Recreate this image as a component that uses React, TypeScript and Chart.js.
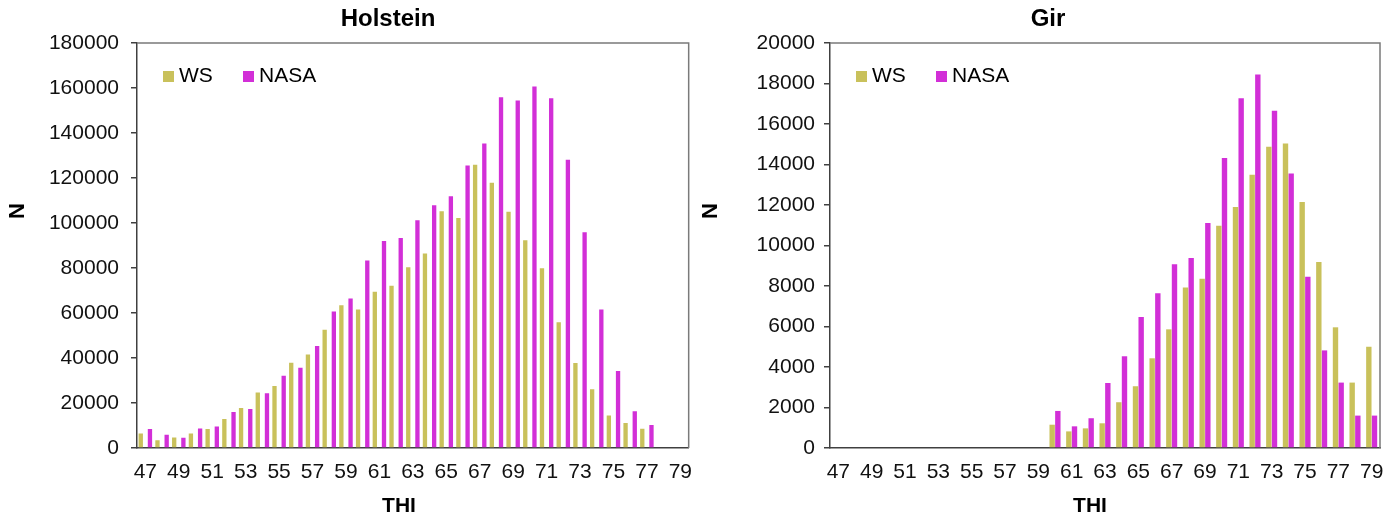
import React, { useEffect, useRef } from "react";
import { Chart, registerables } from "chart.js";

Chart.register(...registerables);

// ---------- data ----------
const thiLabels = [
  "47", "48", "49", "50", "51", "52", "53", "54", "55", "56", "57",
  "58", "59", "60", "61", "62", "63", "64", "65", "66", "67", "68",
  "69", "70", "71", "72", "73", "74", "75", "76", "77", "78", "79",
];

const holsteinWS = [
  6400, 3400, 4700, 6500, 8400, 12900, 17800, 24700, 27600, 37900, 41600,
  52600, 63400, 61600, 69500, 72100, 80300, 86400, 105200, 102200, 125900, 117900,
  105000, 92300, 79900, 55900, 37800, 26100, 14500, 11100, 8600, null, null,
];

const holsteinNASA = [
  8400, 5900, 4600, 8700, 9600, 16000, 17300, 24300, 32100, 35700, 45300,
  60700, 66500, 83300, 92000, 93300, 101200, 107900, 111900, 125600, 135300, 155900,
  154400, 160700, 155400, 128100, 95900, 61600, 34200, 16300, 10200, null, null,
];

const girWS = [
  null, null, null, null, null, null, null, null, null, null, null,
  null, null, 1150, 820, 970, 1220, 2260, 3050, 4430, 5860, 7920,
  8360, 10980, 11900, 13500, 14880, 15040, 12150, 9190, 5960, 3230, 5000,
];

const girNASA = [
  null, null, null, null, null, null, null, null, null, null, null,
  null, null, 1830, 1070, 1470, 3210, 4530, 6470, 7640, 9070, 9380,
  11110, 14320, 17270, 18440, 16660, 13550, 8460, 4820, 3230, 1600, 1600,
];

const seriesNames = ["WS", "NASA"];

// ---------- styles ----------
const WS_COLOR = "#C9C15B";
const NASA_COLOR = "#D22FD7";
const AXIS = "#404040";
const FRAME = "#7a7a7a";
const FONT = "'Liberation Sans', Arial, sans-serif";

const decorPlugin = {
  id: "decor",
  afterDraw(chart: any, _args: any, opts: any) {
    const { ctx, chartArea: a } = chart;
    ctx.save();
    // plot frame (top & right)
    ctx.strokeStyle = FRAME;
    ctx.lineWidth = 1.5;
    ctx.beginPath();
    ctx.moveTo(a.left, a.top);
    ctx.lineTo(a.right, a.top);
    ctx.lineTo(a.right, a.bottom);
    ctx.stroke();

    // legend inside plot area
    let x = a.left + opts.legendDX;
    const y = a.top + 33;
    ctx.font = `21px ${FONT}`;
    ctx.textBaseline = "middle";
    ctx.textAlign = "left";
    chart.data.datasets.forEach((d: any) => {
      ctx.fillStyle = d.backgroundColor;
      ctx.fillRect(x, y - 5, 11, 11);
      ctx.fillStyle = "#000";
      ctx.fillText(d.label, x + 16, y);
      x += 80;
    });

    // chart title
    ctx.textAlign = "center";
    ctx.font = `bold 24px ${FONT}`;
    ctx.fillText(opts.title, opts.titleX, 19);

    // x axis title
    ctx.font = `bold 21px ${FONT}`;
    ctx.fillText(opts.xTitle, opts.xTitleX, 506);

    // y axis title
    ctx.translate(opts.yTitleX, 211);
    ctx.rotate(-Math.PI / 2);
    ctx.font = `bold 22px ${FONT}`;
    ctx.fillText(opts.yTitle, 0, 0);
    ctx.restore();
  },
};

type PanelProps = {
  left: number;
  width: number;
  ws: (number | null)[];
  nasa: (number | null)[];
  yMax: number;
  yStep: number;
  yWidth: number;
  yPad: number;
  padRight: number;
  catPct: number;
  barPct: number;
  title: string;
  titleX: number;
  xTitleX: number;
  yTitleX: number;
};

function Panel(p: PanelProps) {
  const ref = useRef<HTMLCanvasElement | null>(null);
  useEffect(() => {
    if (!ref.current) return;
    const tickFont = { size: 21, family: FONT };
    const chart = new Chart(ref.current, {
      type: "bar",
      data: {
        labels: thiLabels,
        datasets: [
          {
            label: seriesNames[0],
            data: p.ws,
            backgroundColor: WS_COLOR,
            categoryPercentage: p.catPct,
            barPercentage: p.barPct,
          },
          {
            label: seriesNames[1],
            data: p.nasa,
            backgroundColor: NASA_COLOR,
            categoryPercentage: p.catPct,
            barPercentage: p.barPct,
          },
        ],
      },
      options: {
        responsive: false,
        animation: false,
        layout: { padding: { left: 0, right: p.padRight, top: 43, bottom: 0 } },
        plugins: {
          legend: { display: false },
          tooltip: { enabled: false },
          title: { display: false },
          decor: {
            legendDX: 26,
            title: p.title,
            titleX: p.titleX,
            xTitle: "THI",
            xTitleX: p.xTitleX,
            yTitle: "N",
            yTitleX: p.yTitleX,
          },
        } as any,
        scales: {
          x: {
            grid: { display: false, drawTicks: false, drawOnChartArea: false },
            border: { display: true, color: AXIS, width: 1.5 },
            ticks: {
              autoSkip: false,
              maxRotation: 0,
              minRotation: 0,
              padding: 12,
              color: "#111",
              font: tickFont,
              callback: function (this: any, v: any, i: number) {
                return i % 2 === 0 ? this.getLabelForValue(v) : "";
              },
            },
            afterFit: (s: any) => {
              s.height = 71;
            },
          },
          y: {
            min: 0,
            max: p.yMax,
            grid: {
              drawOnChartArea: false,
              drawTicks: true,
              tickLength: 6,
              color: AXIS,
              lineWidth: 1.5,
            },
            border: { display: true, color: AXIS, width: 1.5 },
            ticks: {
              stepSize: p.yStep,
              padding: p.yPad,
              color: "#111",
              font: tickFont,
              callback: (v: any) => String(v),
            },
            afterFit: (s: any) => {
              s.width = p.yWidth;
            },
          },
        },
      } as any,
      plugins: [decorPlugin],
    });
    return () => chart.destroy();
  }, []);
  return (
    <canvas
      ref={ref}
      width={p.width}
      height={519}
      style={{ position: "absolute", left: p.left, top: 0, width: p.width, height: 519 }}
    />
  );
}

export default function App() {
  return (
    <div
      style={{
        position: "fixed",
        left: 0,
        top: 0,
        width: 1396,
        height: 519,
        background: "#fff",
      }}
    >
      <Panel
        left={700}
        width={696}
        ws={girWS}
        nasa={girNASA}
        yMax={20000}
        yStep={2000}
        yWidth={130}
        yPad={9}
        padRight={16}
        catPct={0.68}
        barPct={0.95}
        title="Gir"
        titleX={348}
        xTitleX={390}
        yTitleX={11}
      />
      <Panel
        left={0}
        width={704}
        ws={holsteinWS}
        nasa={holsteinNASA}
        yMax={180000}
        yStep={20000}
        yWidth={137}
        yPad={12}
        padRight={0}
        catPct={1.1}
        barPct={0.47}
        title="Holstein"
        titleX={388}
        xTitleX={399}
        yTitleX={18}
      />
    </div>
  );
}
